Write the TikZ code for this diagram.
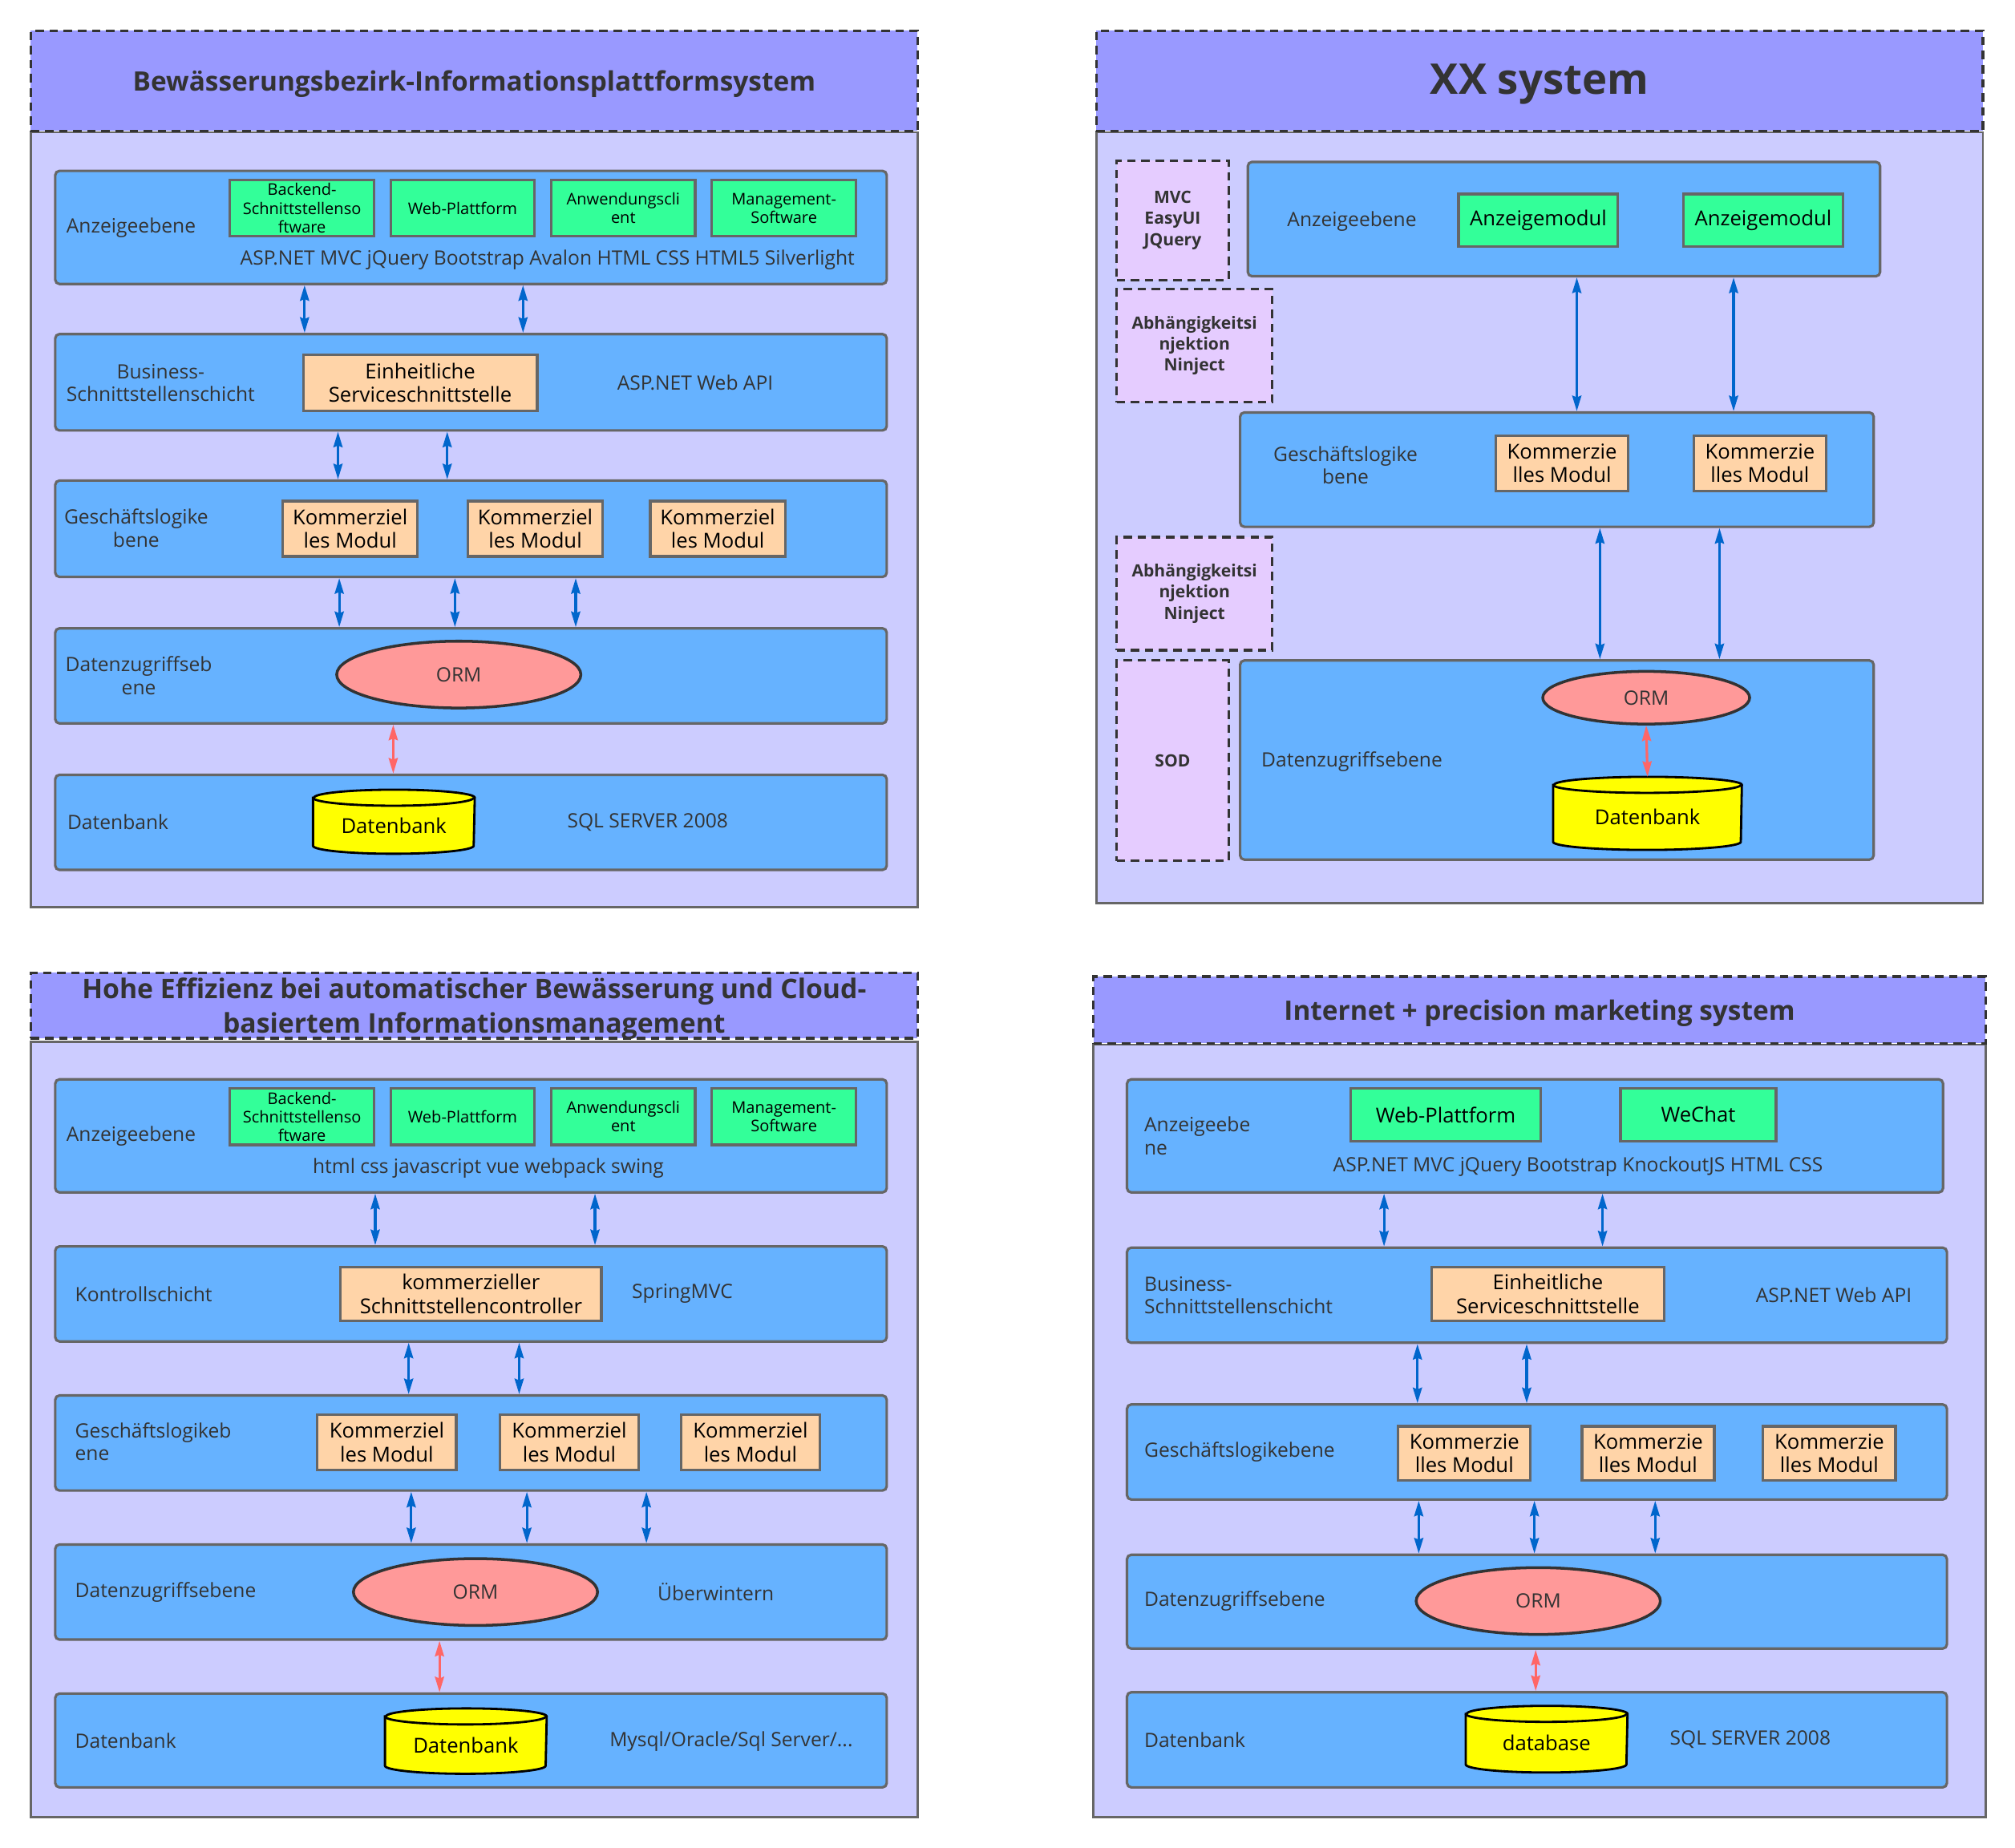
\documentclass[tikz,border=0pt]{standalone}
\usepackage{fontspec}
\setmainfont{Open Sans}
\usetikzlibrary{shapes.geometric,fit,calc,arrows.meta}
\definecolor{ctitle}{HTML}{9999FF}
\definecolor{cbody}{HTML}{CCCCFF}
\definecolor{clayer}{HTML}{66B2FF}
\definecolor{cgreen}{HTML}{33FF99}
\definecolor{corange}{HTML}{FFD4A8}
\definecolor{cpink}{HTML}{FF9999}
\definecolor{cyel}{HTML}{FFFF00}
\definecolor{cpurple}{HTML}{E5CCFF}
\definecolor{cblue}{HTML}{0066CC}
\definecolor{cred}{HTML}{FF6666}
\definecolor{cdark}{HTML}{333333}
\definecolor{cgray}{HTML}{666666}
\newcommand\pxu{0.016027cm}
\newcommand\dbry{0.1cm}
\newcommand\drawdb[2]{%
  \draw[dbshape] ($(#1.north west)+(0,-\dbry)$) -- ($(#1.south west)+(0,\dbry)$)
    arc[start angle=180,end angle=360,x radius=#2,y radius=\dbry]
    -- ($(#1.north east)+(0,-\dbry)$)
    arc[start angle=0,end angle=180,x radius=#2,y radius=\dbry] -- cycle;
  \draw[dbshape,fill=none] ($(#1.north west)+(0,-\dbry)$)
    arc[start angle=180,end angle=360,x radius=#2,y radius=\dbry];}
\begin{document}
\begin{tikzpicture}[x={(0.016027cm,0)},y={(0,-0.016027cm)},
  titlebox/.style={draw=cdark,dash pattern=on 3pt off 2pt,fill=ctitle,line width=0.9pt,inner sep=0},
  ttxt/.style={inner sep=0,text=cdark,align=center,yshift=-1.2pt,font=\bfseries\fontsize{9.5}{11.5}\selectfont},
  bodybox/.style={draw=cgray,fill=cbody,line width=0.8pt,inner sep=0},
  layer/.style={draw=cgray,fill=clayer,line width=0.9pt,rounded corners=1.5pt,inner sep=0},
  gbox/.style={draw=cgray,fill=cgreen,line width=0.9pt,inner sep=0},
  gtxt/.style={inner sep=0,align=center,font=\fontsize{5.7}{6.6}\selectfont},
  gtxtb/.style={inner sep=0,align=center,font=\fontsize{7.3}{8.4}\selectfont},
  obox/.style={draw=cgray,fill=corange,line width=0.9pt,inner sep=0},
  otxt/.style={inner sep=0,align=center,font=\fontsize{7.3}{8.4}\selectfont},
  pbox/.style={draw=cdark,dash pattern=on 3pt off 2pt,fill=cpurple,line width=0.9pt,inner sep=0},
  ptxt/.style={inner sep=0,align=center,text=cdark,font=\bfseries\fontsize{6}{7.5}\selectfont},
  lbl/.style={text=cdark,align=center,inner sep=0,font=\fontsize{7}{8.2}\selectfont},
  lbll/.style={lbl,align=left,anchor=west},
  orm/.style={ellipse,draw=cdark,fill=cpink,line width=1pt,inner sep=0,text=cdark,
     font=\fontsize{7}{8.2}\selectfont},
  dbnode/.style={inner sep=0,font=\fontsize{7.3}{8.2}\selectfont},
  dbshape/.style={draw=black,fill=cyel,line width=0.8pt},
  barr/.style={draw=cblue,line width=0.9pt,{Stealth[length=5.5pt,width=3.2pt,inset=0.6pt]}-{Stealth[length=5.5pt,width=3.2pt,inset=0.6pt]}},
  rarr/.style={draw=cred,line width=0.9pt,{Stealth[length=5.5pt,width=3.2pt,inset=0.6pt]}-{Stealth[length=5.5pt,width=3.2pt,inset=0.6pt]}}
]
\useasboundingbox[fill=white] (0,0) rectangle (1568,1438);

%================ Panel 1 ================
\node[bodybox,fit={(24,103)(714,706)}] (p1b) {};
\node[titlebox,fit={(24,24)(714,102)}] (p1t) {};
\node[ttxt] at (p1t) {Bewässerungsbezirk-Informationsplattformsystem};
\node[layer,fit={(43,133)(690,221)}] (p1l1) {};
\node[layer,fit={(43,260)(690,335)}] (p1l2) {};
\node[layer,fit={(43,374)(690,449)}] (p1l3) {};
\node[layer,fit={(43,489)(690,563)}] (p1l4) {};
\node[layer,fit={(43,603)(690,677)}] (p1l5) {};
\node[lbl] (p1a1) at (102,177) {Anzeigeebene};
\node[gbox,fit={(179,140)(291,184)}] (p1g1) {};
\node[gtxt] at (p1g1) {Backend-\\Schnittstellenso\\ftware};
\node[gbox,fit={(304,140)(416,184)}] (p1g2) {};
\node[gtxt] at (p1g2) {Web-Plattform};
\node[gbox,fit={(429,140)(541,184)}] (p1g3) {};
\node[gtxt] at (p1g3) {Anwendungscli\\ent};
\node[gbox,fit={(554,140)(666,184)}] (p1g4) {};
\node[gtxt] at (p1g4) {Management-\\Software};
\node[lbl] (p1a2) at (426,202) {ASP.NET MVC jQuery Bootstrap Avalon HTML CSS HTML5 Silverlight};
\node[lbl] (p1b1) at (125,298) {Business-\\Schnittstellenschicht};
\node[obox,fit={(236,276)(418,320)}] (p1o1) {};
\node[otxt] at (p1o1) {Einheitliche\\Serviceschnittstelle};
\node[lbl] (p1b2) at (541,298) {ASP.NET Web API};
\node[lbl] (p1c1) at (106,411) {Geschäftslogike\\bene};
\node[obox,fit={(220,390)(325,433)}] (p1k1) {};
\node[otxt] at (p1k1) {Kommerziel\\les Modul};
\node[obox,fit={(364,390)(469,433)}] (p1k2) {};
\node[otxt] at (p1k2) {Kommerziel\\les Modul};
\node[obox,fit={(506,390)(611,433)}] (p1k3) {};
\node[otxt] at (p1k3) {Kommerziel\\les Modul};
\node[lbl] (p1d1) at (108,526) {Datenzugriffseb\\ene};
\node[orm,minimum width=190*\pxu,minimum height=52*\pxu] (p1orm) at (357,525) {ORM};
\node[lbll] (p1e1) at (52,640) {Datenbank};
\node[dbnode,fit={(244,615)(369,664)}] (p1db) {};
\drawdb{p1db}{1.0017cm}
\node[dbnode] at ($(p1db.center)+(0,3)$) {Datenbank};
\node[lbl] (p1e2) at (504,640) {SQL SERVER 2008};
\draw[barr] (p1l1.south -| 237,0) -- (p1l2.north -| 237,0);
\draw[barr] (p1l1.south -| 407,0) -- (p1l2.north -| 407,0);
\draw[barr] (p1l2.south -| 263,0) -- (p1l3.north -| 263,0);
\draw[barr] (p1l2.south -| 348,0) -- (p1l3.north -| 348,0);
\draw[barr] (p1l3.south -| 264,0) -- (p1l4.north -| 264,0);
\draw[barr] (p1l3.south -| 354,0) -- (p1l4.north -| 354,0);
\draw[barr] (p1l3.south -| 448,0) -- (p1l4.north -| 448,0);
\draw[rarr] (p1l4.south -| 306,0) -- (p1l5.north -| 306,0);

%================ Panel 2 ================
\node[bodybox,fit={(853,103)(1543,703)}] (p2b) {};
\node[titlebox,fit={(853,24)(1543,102)}] (p2t) {};
\node[ttxt,font=\bfseries\fontsize{15}{18}\selectfont] at (p2t) {XX system};
\node[pbox,fit={(869,125)(956,218)}] (p2p1) {};
\node[ptxt] at (p2p1) {MVC\\EasyUI\\JQuery};
\node[pbox,fit={(869,225)(990,313)}] (p2p2) {};
\node[ptxt] at (p2p2) {Abhängigkeitsi\\njektion\\Ninject};
\node[pbox,fit={(869,418)(990,506)}] (p2p3) {};
\node[ptxt] at (p2p3) {Abhängigkeitsi\\njektion\\Ninject};
\node[pbox,fit={(869,514)(956,670)}] (p2p4) {};
\node[ptxt] at (p2p4) {SOD};
\node[layer,fit={(971,126)(1463,215)}] (p2l1) {};
\node[layer,fit={(965,321)(1458,410)}] (p2l2) {};
\node[layer,fit={(965,514)(1458,669)}] (p2l3) {};
\node[lbl] (p2a1) at (1052,172) {Anzeigeebene};
\node[gbox,fit={(1135,151)(1259,192)}] (p2g1) {};
\node[gtxtb] at (p2g1) {Anzeigemodul};
\node[gbox,fit={(1310,151)(1434,192)}] (p2g2) {};
\node[gtxtb] at (p2g2) {Anzeigemodul};
\node[lbl] (p2c1) at (1047,362) {Geschäftslogike\\bene};
\node[obox,fit={(1164,339)(1267,382)}] (p2k1) {};
\node[otxt] at (p2k1) {Kommerzie\\lles Modul};
\node[obox,fit={(1318,339)(1421,382)}] (p2k2) {};
\node[otxt] at (p2k2) {Kommerzie\\lles Modul};
\node[lbl] (p2d1) at (1052,593) {Datenzugriffsebene};
\node[orm,minimum width=161*\pxu,minimum height=41*\pxu] (p2orm) at (1281,543) {ORM};
\node[dbnode,fit={(1209,605)(1355,661)}] (p2db) {};
\drawdb{p2db}{1.1700cm}
\node[dbnode] at ($(p2db.center)+(0,3)$) {Datenbank};
\draw[barr] (p2l1.south -| 1227,0) -- (p2l2.north -| 1227,0);
\draw[barr] (p2l1.south -| 1349,0) -- (p2l2.north -| 1349,0);
\draw[barr] (p2l2.south -| 1245,0) -- (p2l3.north -| 1245,0);
\draw[barr] (p2l2.south -| 1338,0) -- (p2l3.north -| 1338,0);
\draw[rarr] (p2orm.south) -- (p2db.north);

%================ Panel 3 ================
\node[bodybox,fit={(24,811)(714,1414)}] (p3b) {};
\node[titlebox,fit={(24,757)(714,808)}] (p3t) {};
\node[ttxt,font=\bfseries\fontsize{9.6}{12.4}\selectfont] at (p3t) {Hohe Effizienz bei automatischer Bewässerung und Cloud-\\basiertem Informationsmanagement};
\node[layer,fit={(43,840)(690,928)}] (p3l1) {};
\node[layer,fit={(43,970)(690,1044)}] (p3l2) {};
\node[layer,fit={(43,1086)(690,1160)}] (p3l3) {};
\node[layer,fit={(43,1202)(690,1276)}] (p3l4) {};
\node[layer,fit={(43,1318)(690,1391)}] (p3l5) {};
\node[lbl] (p3a1) at (102,884) {Anzeigeebene};
\node[gbox,fit={(179,847)(291,891)}] (p3g1) {};
\node[gtxt] at (p3g1) {Backend-\\Schnittstellenso\\ftware};
\node[gbox,fit={(304,847)(416,891)}] (p3g2) {};
\node[gtxt] at (p3g2) {Web-Plattform};
\node[gbox,fit={(429,847)(541,891)}] (p3g3) {};
\node[gtxt] at (p3g3) {Anwendungscli\\ent};
\node[gbox,fit={(554,847)(666,891)}] (p3g4) {};
\node[gtxt] at (p3g4) {Management-\\Software};
\node[lbl] (p3a2) at (380,909) {html css javascript vue webpack swing};
\node[lbll] (p3b1) at (58,1007) {Kontrollschicht};
\node[obox,fit={(265,986)(468,1028)}] (p3o1) {};
\node[otxt] at (p3o1) {kommerzieller\\Schnittstellencontroller};
\node[lbl] (p3b2) at (531,1007) {SpringMVC};
\node[lbll] (p3c1) at (58,1122) {Geschäftslogikeb\\ene};
\node[obox,fit={(247,1101)(355,1144)}] (p3k1) {};
\node[otxt] at (p3k1) {Kommerziel\\les Modul};
\node[obox,fit={(389,1101)(497,1144)}] (p3k2) {};
\node[otxt] at (p3k2) {Kommerziel\\les Modul};
\node[obox,fit={(530,1101)(638,1144)}] (p3k3) {};
\node[otxt] at (p3k3) {Kommerziel\\les Modul};
\node[lbll] (p3d1) at (58,1239) {Datenzugriffsebene};
\node[orm,minimum width=190*\pxu,minimum height=52*\pxu] (p3orm) at (370,1239) {ORM};
\node[lbl] (p3d2) at (557,1239) {Überwintern};
\node[lbll] (p3e1) at (58,1355) {Datenbank};
\node[dbnode,fit={(300,1330)(425,1380)}] (p3db) {};
\drawdb{p3db}{1.0017cm}
\node[dbnode] at ($(p3db.center)+(0,3)$) {Datenbank};
\node[lbl] (p3e2) at (569,1355) {Mysql/Oracle/Sql Server/...};
\draw[barr] (p3l1.south -| 292,0) -- (p3l2.north -| 292,0);
\draw[barr] (p3l1.south -| 463,0) -- (p3l2.north -| 463,0);
\draw[barr] (p3l2.south -| 318,0) -- (p3l3.north -| 318,0);
\draw[barr] (p3l2.south -| 404,0) -- (p3l3.north -| 404,0);
\draw[barr] (p3l3.south -| 320,0) -- (p3l4.north -| 320,0);
\draw[barr] (p3l3.south -| 410,0) -- (p3l4.north -| 410,0);
\draw[barr] (p3l3.south -| 503,0) -- (p3l4.north -| 503,0);
\draw[rarr] (p3l4.south -| 342,0) -- (p3l5.north -| 342,0);

%================ Panel 4 ================
\node[bodybox,fit={(851,813)(1545,1414)}] (p4b) {};
\node[titlebox,fit={(851,760)(1545,812)}] (p4t) {};
\node[ttxt] at (p4t) {Internet + precision marketing system};
\node[layer,fit={(877,840)(1512,928)}] (p4l1) {};
\node[layer,fit={(877,971)(1515,1045)}] (p4l2) {};
\node[layer,fit={(877,1093)(1515,1167)}] (p4l3) {};
\node[layer,fit={(877,1210)(1515,1283)}] (p4l4) {};
\node[layer,fit={(877,1317)(1515,1391)}] (p4l5) {};
\node[lbll] (p4a1) at (890,884) {Anzeigeebe\\ne};
\node[gbox,fit={(1051,847)(1199,888)}] (p4g1) {};
\node[gtxtb] at (p4g1) {Web-Plattform};
\node[gbox,fit={(1261,847)(1382,888)}] (p4g2) {};
\node[gtxtb] at (p4g2) {WeChat};
\node[lbl] (p4a2) at (1228,908) {ASP.NET MVC jQuery Bootstrap KnockoutJS HTML CSS};
\node[lbll] (p4b1) at (890,1008) {Business-\\Schnittstellenschicht};
\node[obox,fit={(1114,986)(1295,1028)}] (p4o1) {};
\node[otxt] at (p4o1) {Einheitliche\\Serviceschnittstelle};
\node[lbl] (p4b2) at (1427,1008) {ASP.NET Web API};
\node[lbll] (p4c1) at (890,1130) {Geschäftslogikebene};
\node[obox,fit={(1088,1110)(1191,1152)}] (p4k1) {};
\node[otxt] at (p4k1) {Kommerzie\\lles Modul};
\node[obox,fit={(1231,1110)(1334,1152)}] (p4k2) {};
\node[otxt] at (p4k2) {Kommerzie\\lles Modul};
\node[obox,fit={(1372,1110)(1475,1152)}] (p4k3) {};
\node[otxt] at (p4k3) {Kommerzie\\lles Modul};
\node[lbll] (p4d1) at (890,1246) {Datenzugriffsebene};
\node[orm,minimum width=190*\pxu,minimum height=52*\pxu] (p4orm) at (1197,1246) {ORM};
\node[lbll] (p4e1) at (890,1354) {Datenbank};
\node[dbnode,fit={(1141,1328)(1266,1379)}] (p4db) {};
\drawdb{p4db}{1.0017cm}
\node[dbnode] at ($(p4db.center)+(0,3)$) {database};
\node[lbl] (p4e2) at (1362,1354) {SQL SERVER 2008};
\draw[barr] (p4l1.south -| 1077,0) -- (p4l2.north -| 1077,0);
\draw[barr] (p4l1.south -| 1247,0) -- (p4l2.north -| 1247,0);
\draw[barr] (p4l2.south -| 1103,0) -- (p4l3.north -| 1103,0);
\draw[barr] (p4l2.south -| 1188,0) -- (p4l3.north -| 1188,0);
\draw[barr] (p4l3.south -| 1104,0) -- (p4l4.north -| 1104,0);
\draw[barr] (p4l3.south -| 1194,0) -- (p4l4.north -| 1194,0);
\draw[barr] (p4l3.south -| 1288,0) -- (p4l4.north -| 1288,0);
\draw[rarr] (p4l4.south -| 1195,0) -- (p4l5.north -| 1195,0);
\end{tikzpicture}
\end{document}
